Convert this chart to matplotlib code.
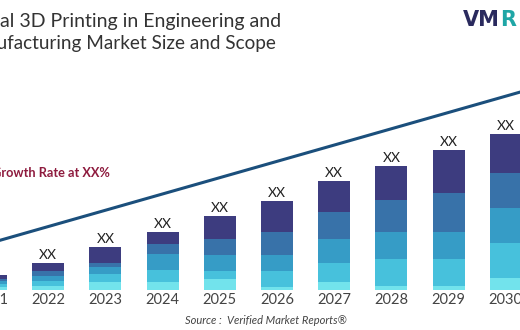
import matplotlib.pyplot as plt
import numpy as np

# годы (2021 и 2030 обрезаны краями картинки)
years = ['2021', '2022', '2023', '2024', '2025', '2026', '2027', '2028', '2029', '2030']
value_labels = ['XX'] * len(years)

# сегменты столбцов снизу вверх
seg1 = [3, 4.3, 8.3, 8.3, 11, 3.3, 7.7, 4.3, 4.3, 12]
seg2 = [3, 5, 7.4, 11.7, 8.3, 16, 19.7, 27, 27, 35]
seg3 = [3, 4.7, 7.6, 16, 15.7, 15.7, 23.3, 27, 27, 35]
seg4 = [2.5, 5.3, 4, 10, 15.7, 23.3, 27.7, 31.7, 39, 35]
seg5 = [3.5, 7.3, 15.4, 12.3, 23.3, 31, 30.7, 34.3, 42.7, 39]
segments = [seg1, seg2, seg3, seg4, seg5]
seg_colors = ['#72e3ec', '#47c1dc', '#369cc6', '#3872a9', '#3d3c7f']

# линия тренда (начало и конец)
trend_x = [-0.5, 9.5]
trend_y = [39, 202]

fig = plt.figure(figsize=(5.2, 3.3), dpi=100)
ax = fig.add_axes([0, 0, 1, 1])
ax.set_xlim(0.157, 9.248)
ax.set_ylim(-40, 290)
ax.axis('off')

x = np.arange(len(years))
bottom = np.zeros(len(years))
for seg, col in zip(segments, seg_colors):
    ax.bar(x, seg, bottom=bottom, width=0.56, color=col, zorder=2)
    bottom += np.array(seg)

ax.plot(trend_x, trend_y, color='#1b4f7c', linewidth=2.2, zorder=3)

for i in x:
    ax.text(i, bottom[i] + 2, value_labels[i], ha='center', va='bottom',
            fontsize=10, color='#222222', family='Lato')
    ax.text(i, -10, years[i], ha='center', va='center',
            fontsize=10.5, color='#444444', family='Lato')

# текст про рост (начало обрезано)
fig.text(110 / 520, 1 - 173 / 330, 'Compound Annual Growth Rate at XX%', ha='right', va='center',
         fontsize=9.2, color='#8e1b3e', family='Lato', fontweight='bold')

# заголовок
fig.text(281 / 520, 1 - 22 / 330, 'Global 3D Printing in Engineering and', ha='right', va='center',
         fontsize=14, color='#333333', family='Lato')
fig.text(276 / 520, 1 - 44 / 330, 'Manufacturing Market Size and Scope', ha='right', va='center',
         fontsize=13.6, color='#333333', family='Lato')

# логотип
vm = fig.text(463 / 520, 1 - 20 / 330, 'VM', ha='left', va='center',
              fontsize=15, color='#2a2a5e', fontweight='bold', family='DejaVu Sans')
fig.canvas.draw()
bb = vm.get_window_extent().transformed(fig.transFigure.inverted())
fig.text(bb.x1, 1 - 20 / 330, 'R', ha='left', va='center',
         fontsize=15, color='#1fa6a6', fontweight='bold', family='DejaVu Sans')

fig.text(266 / 520, 1 - 321 / 330, 'Source :  Verified Market Reports®', ha='center', va='center',
         fontsize=8, color='#444444', family='Lato', style='italic')

fig.savefig('out.png', dpi=100)
